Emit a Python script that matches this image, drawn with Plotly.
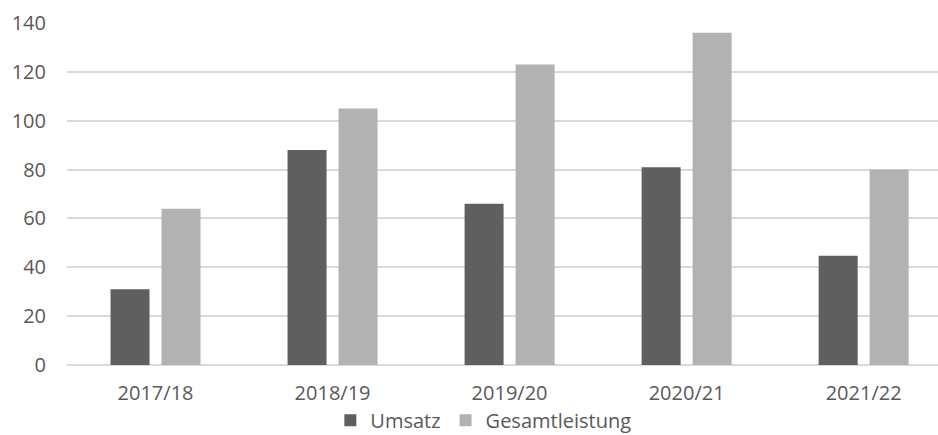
import plotly.graph_objects as go

# Geschäftsjahre und Kennzahlen
jahre = ["2017/18", "2018/19", "2019/20", "2020/21", "2021/22"]
umsatz = [31, 88, 66, 81, 44.7]
gesamtleistung = [64, 105, 123, 136, 80]
y_ticks = [0, 20, 40, 60, 80, 100, 120, 140]

text_farbe = "#595959"
gitter_farbe = "#d9d9d9"

fig = go.Figure()
fig.add_trace(go.Bar(name="Umsatz", x=jahre, y=umsatz,
                     marker=dict(color="#5f5f5f", line=dict(width=0))))
fig.add_trace(go.Bar(name="Gesamtleistung", x=jahre, y=gesamtleistung,
                     marker=dict(color="#b2b2b2", line=dict(width=0))))

fig.update_layout(
    width=938, height=435,
    margin=dict(l=67, r=0, t=23, b=70, autoexpand=False),
    paper_bgcolor="white", plot_bgcolor="white",
    font=dict(family="Open Sans", size=20, color=text_farbe),
    barmode="group", bargap=0.424, bargroupgap=0.235,
    showlegend=True,
    legend=dict(orientation="h", x=0.478, xanchor="center",
                yref="container", y=0.034, yanchor="middle",
                font=dict(size=20, color=text_farbe), itemwidth=30,
                traceorder="normal", bgcolor="rgba(0,0,0,0)"),
    xaxis=dict(range=[-0.5, 4.42], showgrid=False, showline=False, ticks="",
               ticklabelstandoff=14, fixedrange=True),
    yaxis=dict(range=[0, 140], tickvals=y_ticks, showgrid=True, gridcolor=gitter_farbe,
               gridwidth=1.5, zeroline=True, zerolinecolor=gitter_farbe, zerolinewidth=1.5,
               showline=False, ticks="", ticklabelstandoff=20, fixedrange=True),
)

fig.write_html("out.html")
